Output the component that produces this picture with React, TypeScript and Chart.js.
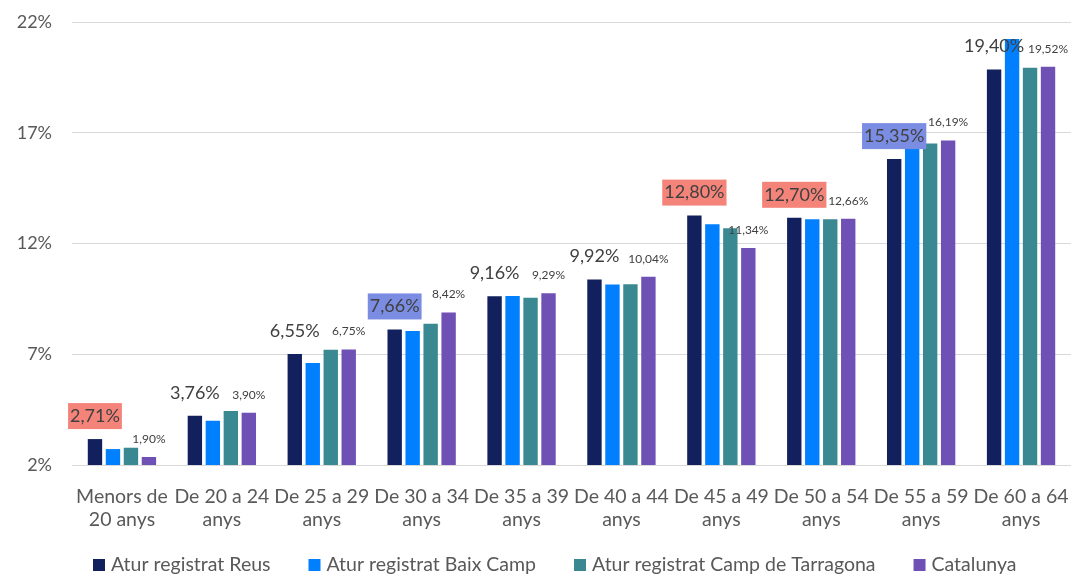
import React, { useEffect, useRef } from "react";
import { Chart, registerables } from "chart.js";

Chart.register(...registerables);

const CATEGORIES: string[][] = [
  ["Menors de", "20 anys"],
  ["De 20 a 24", "anys"],
  ["De 25 a 29", "anys"],
  ["De 30 a 34", "anys"],
  ["De 35 a 39", "anys"],
  ["De 40 a 44", "anys"],
  ["De 45 a 49", "anys"],
  ["De 50 a 54", "anys"],
  ["De 55 a 59", "anys"],
  ["De 60 a 64", "anys"],
];

const SERIES_NAMES = [
  "Atur registrat Reus",
  "Atur registrat Baix Camp",
  "Atur registrat Camp de Tarragona",
  "Catalunya",
];

const REUS = [2.71, 3.76, 6.55, 7.66, 9.16, 9.92, 12.8, 12.7, 15.35, 19.4];
const BAIX_CAMP = [2.26, 3.54, 6.15, 7.59, 9.17, 9.69, 12.41, 12.63, 16.0, 20.77];
const CAMP_TARRAGONA = [2.32, 3.98, 6.74, 7.92, 9.09, 9.7, 12.23, 12.63, 16.06, 19.48];
const CATALUNYA = [1.9, 3.9, 6.75, 8.42, 9.29, 10.04, 11.34, 12.66, 16.19, 19.52];

// axis: starts at 1.54 with 5-point steps, labels shown rounded
const Y_MIN = 1.54;
const Y_STEP = 5;
const Y_TICK_COUNT = 5;

const COLORS = ["#12205E", "#0080FF", "#3A8891", "#6F51B5"];
const REUS_LABEL_BG: (string | null)[] = [
  "#F4847A", null, null, "#7B8DE3", null, null, "#F4847A", "#F4847A", "#7B8DE3", null,
];

const FONT = "Lato, 'Open Sans', sans-serif";

const fmt = (v: number) => v.toFixed(2).replace(".", ",") + "%";

const labelPlugin = {
  id: "valueLabels",
  afterDatasetsDraw(chart: any) {
    const ctx = chart.ctx as CanvasRenderingContext2D;
    ctx.save();
    ctx.textAlign = "center";
    ctx.textBaseline = "middle";
    const m0 = chart.getDatasetMeta(0);
    m0.data.forEach((bar: any, i: number) => {
      const text = fmt(REUS[i]);
      ctx.font = `18px ${FONT}`;
      const w = ctx.measureText(text).width;
      const cy = bar.y - 23;
      const bg = REUS_LABEL_BG[i];
      if (bg) {
        ctx.fillStyle = bg;
        ctx.fillRect(bar.x - w / 2 - 2, cy - 13, w + 4, 26);
      }
      ctx.fillStyle = "#404040";
      ctx.fillText(text, bar.x, cy);
    });
    const m3 = chart.getDatasetMeta(3);
    m3.data.forEach((bar: any, i: number) => {
      const text = fmt(CATALUNYA[i]);
      ctx.font = `12px ${FONT}`;
      ctx.fillStyle = "#404040";
      ctx.fillText(text, bar.x, bar.y - 18);
    });
    ctx.restore();
  },
};

const legendPlugin = {
  id: "customLegend",
  afterDraw(chart: any) {
    const ctx = chart.ctx as CanvasRenderingContext2D;
    const area = chart.chartArea;
    ctx.save();
    ctx.font = `19.5px ${FONT}`;
    ctx.textBaseline = "middle";
    ctx.textAlign = "left";
    let x = area.left + 21;
    const y = area.bottom + 100;
    chart.data.datasets.forEach((ds: any) => {
      ctx.fillStyle = ds.backgroundColor;
      ctx.fillRect(x, y - 6, 12, 12);
      x += 18;
      ctx.fillStyle = "#595959";
      ctx.fillText(ds.label, x, y);
      x += ctx.measureText(ds.label).width + 38;
    });
    ctx.restore();
  },
};

export default function App() {
  const ref = useRef<HTMLCanvasElement | null>(null);

  useEffect(() => {
    if (!ref.current) return;
    const series = [REUS, BAIX_CAMP, CAMP_TARRAGONA, CATALUNYA];
    const chart = new Chart(ref.current, {
      type: "bar",
      data: {
        labels: CATEGORIES,
        datasets: series.map((d, i) => ({
          label: SERIES_NAMES[i],
          data: d,
          backgroundColor: COLORS[i],
          borderWidth: 0,
          categoryPercentage: 0.72,
          barPercentage: 0.8,
        })),
      },
      options: {
        responsive: false,
        animation: false,
        layout: { padding: { top: 22, bottom: 45, left: 0, right: 0 } },
        plugins: {
          legend: { display: false },
          tooltip: { enabled: false },
        },
        scales: {
          x: {
            grid: { display: false, drawTicks: false },
            border: { display: false },
            ticks: {
              color: "#595959",
              padding: 20,
              maxRotation: 0,
              autoSkip: false,
              font: { family: FONT, size: 19.5, lineHeight: 1.18 },
            },
            afterFit(scale: any) {
              scale.height = 75;
              scale.paddingLeft = 0;
              scale.paddingRight = 0;
            },
          },
          y: {
            min: Y_MIN,
            max: Y_MIN + Y_STEP * (Y_TICK_COUNT - 1),
            grid: { color: "#d9d9d9", lineWidth: 1, drawTicks: false },
            border: { display: false },
            afterBuildTicks(scale: any) {
              scale.ticks = Array.from({ length: Y_TICK_COUNT }, (_, i) => ({
                value: Y_MIN + i * Y_STEP,
              }));
            },
            afterFit(scale: any) {
              scale.width = 72;
              scale.paddingTop = 0;
              scale.paddingBottom = 0;
            },
            ticks: {
              color: "#595959",
              padding: 20,
              font: { family: FONT, size: 18 },
              callback: (v: any) => Math.round(Number(v)) + "%",
            },
          },
        },
      },
      plugins: [labelPlugin, legendPlugin],
    });
    return () => chart.destroy();
  }, []);

  return (
    <div
      style={{
        position: "fixed",
        left: 0,
        top: 0,
        width: 1071,
        height: 574,
        overflow: "hidden",
        background: "#fff",
      }}
    >
      <canvas ref={ref} width={1071} height={585} style={{ width: 1071, height: 585 }} />
    </div>
  );
}
